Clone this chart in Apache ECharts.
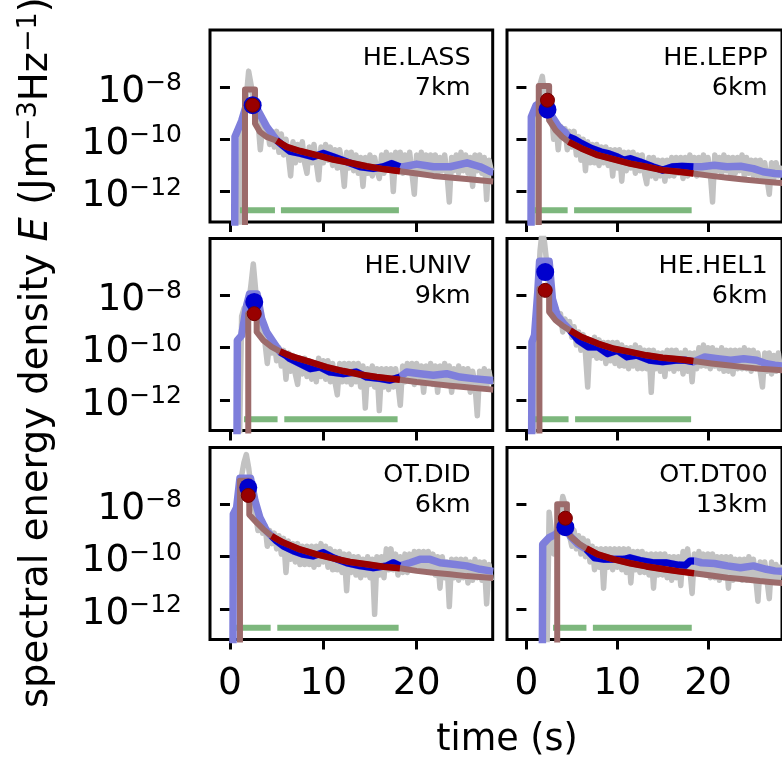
<!DOCTYPE html>
<html><head><meta charset="utf-8">
<script src="https://cdn.jsdelivr.net/npm/echarts@6/dist/echarts.min.js"></script>
<style>html,body{margin:0;padding:0;background:#fff}#c{width:782px;height:761px}</style>
</head><body><div id="c"></div>
<script>
// ---------------- data (log10 of E in J m^-3 Hz^-1, time in s) ----------------
const stations = ['HE.LASS', 'HE.LEPP', 'HE.UNIV', 'HE.HEL1', 'OT.DID', 'OT.DT00'];
const distances = ['7km', '6km', '9km', '6km', '6km', '13km'];
const xTicks = [0, 10, 20];
const yTickExponents = [-12, -10, -8];

const grayTime = [0,0.25,0.5,0.75,1,1.25,1.5,1.75,2,2.25,2.5,2.75,3,3.25,3.5,3.75,4,4.25,4.5,4.75,5,
5.25,5.5,5.75,6,6.25,6.5,6.75,7,7.25,7.5,7.75,8,8.25,8.5,8.75,9,9.25,9.5,9.75,10,
10.25,10.5,10.75,11,11.25,11.5,11.75,12,12.25,12.5,12.75,13,13.25,13.5,13.75,14,14.25,14.5,14.75,15,
15.25,15.5,15.75,16,16.25,16.5,16.75,17,17.25,17.5,17.75,18,18.25,18.5,18.75,19,19.25,19.5,19.75,20,
20.25,20.5,20.75,21,21.25,21.5,21.75,22,22.25,22.5,22.75,23,23.25,23.5,23.75,24,24.25,24.5,24.75,25,
25.25,25.5,25.75,26,26.25,26.5,26.75,27,27.25,27.5,27.75,28];

const lassGray = [-14,-14,-14,-14,-14,-9.6,-9.0,-8.4,-7.4,-7.9,-8.4,-8.9,-9.3,-10.4,-9.5,-9.8,-9.5,-10.2,-9.7,-10.3,-9.7,
-10.5,-9.8,-10.6,-10.0, -10.6,-11.4,-10.1,-10.9, -10.2,-10.8,-10.1,-10.9, -11.3,-10.3,-10.9,-10.2, -10.9,-11.55,-10.3,-10.9,
-10.2,-10.8,-10.3,-11.0, -10.4,-11.1,-10.4,-10.9, -11.8,-10.5,-11.1,-10.5, -11.2,-10.6,-11.3,-10.7, -11.8,-10.7,-11.3,-10.6,
-11.4,-10.7,-11.2,-11.5, -10.6,-11.3,-10.5,-11.1, -10.6,-12.0,-10.5,-11.2, -10.5,-11.3,-10.6,-11.2, -10.5,-11.3,-12.1,-10.6,
-11.2,-10.5,-11.3,-10.6, -11.2,-10.6,-11.4,-10.6, -11.3,-10.7,-11.2,-10.6, -11.3,-12.4,-10.7,-11.2, -10.6,-11.3,-10.5,-11.2,
-10.6,-11.3,-10.7,-11.8, -10.6,-11.2,-10.6,-11.3, -10.7,-12.3,-10.8,-11.2];
const leppGray = [-14,-14,-14,-14,-9.8,-8.9,-7.9,-7.6,-8.3,-8.8,-9.3,-9.0,-10.0,-9.4,-10.4,-9.5,-9.9,-9.6,-10.4,-9.7,-10.3,
-9.7,-10.6,-9.9,-10.8, -10.0,-11.2,-10.1,-10.9, -10.2,-10.9,-10.2,-11.0, -10.3,-10.9,-10.3,-11.0, -10.4,-11.4,-10.4,-11.1,
-10.4,-11.6,-10.5,-11.2, -10.5,-11.1,-10.5,-11.3, -10.6,-11.2,-10.6,-11.3, -11.7,-10.7,-11.4,-10.7, -11.5,-10.8,-11.4,-10.8,
-11.6,-10.8,-11.4,-10.7, -11.4,-10.7,-11.3,-10.7, -11.5,-10.7,-11.4,-10.6, -11.3,-10.7,-11.4,-10.7, -11.2,-10.6,-11.3,-10.7,
-11.3,-12.4,-10.6,-11.2, -10.7,-11.3,-10.6,-11.2, -10.7,-11.4,-10.7,-11.3, -10.7,-11.2,-10.6,-11.4, -10.7,-11.3,-10.8,-11.4,
-10.8,-11.4,-10.8,-11.5, -10.9,-11.5,-12.1,-10.9, -11.5,-10.9,-11.4,-11.0];
const univGray = [-14,-14,-14,-14,-14,-8.8,-8.5,-8.4,-8.3,-7.6,-6.8,-7.8,-8.6,-9.1,-9.5,-9.8,-10.6,-9.7,-10.2,-9.8,-10.5,
-10.0,-10.7,-10.1,-11.2, -10.2,-10.9,-10.3,-11.0, -11.4,-10.4,-11.0,-10.4, -11.1,-10.5,-11.2,-10.6, -11.3,-10.4,-11.1,-10.5,
-11.2,-10.5,-11.3,-10.6, -11.3,-11.8,-10.6,-11.3, -10.6,-11.3,-10.6,-11.4, -10.6,-11.3,-10.6,-11.5, -10.7,-12.3,-10.8,-11.4,
-10.7,-11.5,-10.8,-12.4, -10.8,-11.5,-10.8,-11.6, -10.8,-11.5,-10.8,-11.4, -12.2,-10.7,-11.3,-10.6, -11.2,-10.6,-11.4,-10.6,
-11.2,-10.7,-11.7,-10.7, -11.3,-10.6,-11.4,-10.7, -11.7,-10.7,-11.3,-10.6, -11.3,-10.7,-11.7,-10.8, -11.4,-10.7,-11.4,-10.8,
-11.4,-10.8,-11.7,-10.9, -11.4,-12.6,-10.9,-11.5, -10.8,-11.5,-10.9,-11.4];
const hel1Gray = [-14,-14,-14,-14,-9.6,-8.0,-6.3,-5.5,-6.0,-6.8,-7.9,-8.3,-8.8,-8.5,-8.9,-8.7,-9.4,-8.9,-9.2,-9.0,-9.6,
-9.2,-9.9,-9.4,-10.1, -9.5,-10.2,-11.5,-9.7, -10.3,-9.6,-10.4,-9.7, -10.4,-9.8,-10.6,-9.8, -10.5,-9.8,-10.6,-9.8,
-10.7,-9.9,-10.7,-10.0, -10.8,-10.0,-10.7,-9.9, -10.8,-10.0,-10.8,-10.1, -10.8,-10.1,-11.7,-10.1, -10.8,-10.2,-10.9,-10.2,
-11.1,-10.1,-10.8,-10.1, -10.9,-10.1,-10.8,-10.2, -11.0,-10.1,-10.9,-10.2, -11.3,-10.2,-10.8,-10.0, -10.7,-9.9,-10.7,-10.0,
-10.8,-10.0,-10.7,-10.1, -10.8,-10.0,-10.9,-10.1, -10.9,-10.1,-11.0,-10.1, -10.8,-10.1,-10.8,-10.0, -10.8,-10.1,-10.9,-10.1,
-10.8,-10.2,-10.9,-11.5, -10.2,-10.9,-10.2,-11.0, -10.3,-10.9,-10.2,-10.9];
const didGray = [-14,-14,-9.0,-8.2,-7.4,-6.9,-6.4,-6.1,-6.6,-7.3,-7.9,-8.4,-9.0,-8.6,-9.1,-8.8,-9.6,-9.0,-9.5,-9.1,-9.7,
-9.2,-9.9,-9.3,-10.6, -9.4,-10.1,-9.5,-10.2, -9.5,-10.3,-9.6,-10.3, -9.6,-10.3,-9.6,-10.4, -9.6,-10.3,-9.5,-10.2,
-9.6,-10.4,-9.7,-10.5, -9.8,-10.5,-9.8,-10.6, -9.9,-11.3,-9.9,-10.6, -10.0,-10.7,-10.0,-10.8, -10.1,-10.7,-10.0,-10.8,
-10.1,-12.2,-10.0,-10.7, -10.0,-10.8,-9.7,-10.5, -9.7,-10.5,-9.9,-10.7, -10.0,-10.6,-9.9,-10.6, -9.9,-10.5,-9.8,-10.4,
-9.8,-10.5,-9.8,-10.4, -9.8,-10.6,-9.9,-10.7, -10.0,-11.2,-10.0,-10.8, -10.2,-11.9,-10.1,-10.8, -10.1,-10.9,-10.1,-10.8,
-10.1,-11.0,-10.2,-10.9, -10.1,-10.8,-10.2,-10.9, -10.2,-11.8,-10.3,-10.9];
const dt00Gray = [-14,-14,-14,-14,-14,-14,-14,-14,-14,-14,-8.3,-9.0,-9.9,-9.3,-9.1,-8.4,-7.7,-8.0,-8.6,-9.2,-9.6,
-9.0,-9.7,-9.2,-9.9, -9.3,-10.0,-9.4,-10.2, -9.6,-10.5,-9.7,-10.4, -9.7,-11.2,-9.7,-10.4, -9.7,-10.5,-9.7,-10.4,
-9.7,-10.5,-9.7,-10.6, -9.7,-11.0,-9.8,-10.5, -9.8,-10.6,-9.8,-10.6, -9.9,-10.7,-9.9,-11.2, -9.9,-10.7,-9.9,-10.7,
-9.9,-10.8,-10.0,-10.9, -10.0,-10.8,-10.0,-11.1, -9.8,-10.6,-9.7,-10.5, -11.4,-9.9,-10.6,-9.8, -10.6,-9.9,-10.7,-9.9,
-10.8,-9.9,-10.8,-10.0, -10.9,-10.0,-10.8,-10.0, -11.2,-10.0,-10.9,-10.1, -10.8,-10.1,-10.9,-10.1, -10.9,-10.0,-10.8,-10.1,
-10.8,-11.7,-10.2,-10.9, -10.2,-10.9,-11.6,-10.2, -10.9,-10.3,-10.9,-10.3];

// smoothed envelope: before fit window, inside fit window, after
const lassSmoothPre = [[0.5,-14],[0.54,-9.9],[1.25,-9.3],[1.8,-8.65],[2.4,-8.55],[3.0,-8.9],[3.9,-9.5],[4.6,-9.85]];
const lassSmoothFit = [[5.0,-10.04],[5.7,-10.25],[6.43,-10.46],[7.5,-10.54],[8.93,-10.67],[10.0,-10.54],[11.07,-10.67],[12.5,-10.86],[13.93,-11.05],[15.36,-11.12],[16.43,-11.05],[17.32,-10.93],[18.21,-11.05]];
const lassSmoothPost = [[18.6,-11.05],[20.0,-10.95],[21.8,-11.05],[23.6,-11.05],[25.4,-10.9],[26.8,-11.05],[27.9,-11.24],[28.2,-11.25]];
const leppSmoothPre = [[0.5,-14],[0.54,-9.15],[1.07,-8.7],[1.6,-8.6],[2.32,-8.8],[2.86,-9.15],[3.57,-9.53],[4.3,-9.75]];
const leppSmoothFit = [[4.64,-9.91],[5.3,-10.0],[6.07,-10.16],[7.14,-10.35],[8.21,-10.48],[8.93,-10.54],[10.0,-10.67],[10.71,-10.8],[11.43,-10.74],[12.5,-10.86],[13.93,-11.05],[15.0,-11.18],[16.07,-11.05],[17.14,-11.03],[18.39,-11.05]];
const leppSmoothPost = [[19.3,-11.05],[20.7,-10.99],[22.1,-11.05],[23.6,-11.03],[25.0,-11.12],[26.07,-11.24],[27.36,-11.31],[28.2,-11.33]];
const univSmoothPre = [[0.75,-14],[0.79,-9.72],[1.25,-9.53],[1.79,-8.38],[2.1,-7.95],[2.9,-7.95],[3.39,-8.89],[3.93,-9.4],[4.64,-9.78]];
const univSmoothFit = [[5.36,-10.16],[6.0,-10.3],[6.43,-10.42],[7.5,-10.61],[8.57,-10.8],[9.64,-10.74],[10.71,-10.93],[12.14,-10.99],[13.57,-10.93],[14.64,-11.12],[16.07,-11.18],[17.14,-11.24],[18.21,-11.12]];
const univSmoothPost = [[18.93,-10.93],[20.36,-10.99],[21.79,-11.05],[23.21,-10.99],[24.64,-11.12],[26.07,-11.18],[27.86,-11.24],[28.2,-11.25]];
const hel1SmoothPre = [[0.57,-14],[0.61,-9.78],[0.89,-9.53],[1.25,-7.87],[1.45,-6.7],[2.5,-6.7],[2.86,-8.13],[3.39,-8.76],[4.1,-9.08]];
const hel1SmoothFit = [[4.82,-9.34],[5.71,-9.72],[6.79,-9.97],[7.86,-9.97],[8.93,-10.23],[10.0,-10.1],[11.07,-10.35],[12.14,-10.29],[13.57,-10.48],[15.0,-10.54],[16.43,-10.48],[17.5,-10.48],[18.39,-10.54]];
const hel1SmoothPost = [[19.64,-10.35],[21.07,-10.42],[22.5,-10.48],[23.93,-10.42],[25.36,-10.48],[26.43,-10.61],[27.36,-10.67],[28.2,-10.7]];
const didSmoothPre = [[0.32,-14],[0.36,-8.38],[0.71,-8.13],[1.07,-7.0],[2.2,-7.0],[2.68,-7.87],[3.21,-8.51],[3.93,-9.02]];
const didSmoothFit = [[4.46,-9.21],[5.0,-9.4],[5.71,-9.59],[6.79,-9.78],[7.86,-9.91],[8.93,-9.97],[10.0,-9.84],[11.07,-10.04],[12.5,-10.23],[13.93,-10.35],[15.36,-10.42],[16.79,-10.35],[17.5,-10.23],[18.21,-10.35]];
const didSmoothPost = [[19.29,-10.23],[20.36,-10.1],[21.43,-10.1],[22.5,-10.23],[23.93,-10.29],[25.36,-10.35],[26.79,-10.48],[27.86,-10.54],[28.2,-10.56]];
const dt00SmoothPre = [[1.75,-14],[1.79,-9.53],[2.5,-9.27],[3.21,-9.15],[3.93,-8.83],[4.3,-8.87],[4.82,-9.21],[5.71,-9.53]];
const dt00SmoothFit = [[6.61,-9.72],[7.5,-10.04],[8.57,-10.1],[9.64,-10.1],[10.71,-10.1],[11.43,-10.04],[12.5,-10.14],[13.93,-10.23],[15.36,-10.23],[16.79,-10.32],[17.5,-10.33],[18.04,-10.16],[18.46,-10.16]];
const dt00SmoothPost = [[19.29,-10.23],[20.71,-10.26],[22.14,-10.35],[23.57,-10.42],[25.0,-10.35],[26.43,-10.48],[27.36,-10.54],[28.2,-10.56]];

// model curve: before fit window, inside fit window, after
const lassModelPre = [[1.61,-14],[1.61,-8.1],[2.68,-8.1],[2.68,-9.4],[3.21,-9.72],[3.93,-9.91]];
const lassModelFit = [[5.0,-10.06],[6.07,-10.29],[7.5,-10.45],[9.29,-10.61],[11.07,-10.78],[12.86,-10.9],[14.64,-11.03],[16.43,-11.14],[18.21,-11.22]];
const lassModelPost = [[20.0,-11.31],[21.79,-11.4],[23.57,-11.46],[25.36,-11.52],[27.86,-11.6],[28.2,-11.61]];
const leppModelPre = [[1.36,-14],[1.36,-7.97],[2.5,-7.97],[2.5,-9.27],[3.21,-9.65],[3.93,-9.91]];
const leppModelFit = [[4.64,-10.1],[6.07,-10.35],[7.86,-10.61],[9.64,-10.77],[11.43,-10.93],[13.21,-11.05],[15.0,-11.18],[16.79,-11.24],[18.39,-11.31]];
const leppModelPost = [[20.36,-11.4],[22.14,-11.47],[23.93,-11.54],[25.7,-11.6],[27.36,-11.65],[28.2,-11.67]];
const univModelPre = [[1.96,-14],[1.96,-8.7],[2.86,-8.7],[2.86,-9.4],[3.57,-9.72],[4.46,-9.97]];
const univModelFit = [[5.36,-10.14],[6.79,-10.35],[8.57,-10.54],[10.36,-10.74],[12.14,-10.89],[13.93,-11.02],[15.71,-11.12],[18.21,-11.22]];
const univModelPost = [[20.0,-11.31],[21.79,-11.38],[23.57,-11.45],[25.36,-11.51],[27.86,-11.59],[28.2,-11.6]];
const hel1ModelPre = [[1.43,-14],[1.43,-7.75],[2.5,-7.75],[2.5,-8.63],[3.21,-8.95],[3.93,-9.15]];
const hel1ModelFit = [[4.82,-9.34],[6.07,-9.59],[7.86,-9.84],[9.64,-10.04],[11.43,-10.16],[13.21,-10.29],[15.0,-10.38],[16.79,-10.44],[18.39,-10.51]];
const hel1ModelPost = [[20.36,-10.6],[22.14,-10.67],[23.93,-10.74],[25.71,-10.8],[27.36,-10.84],[28.2,-10.86]];
const didModelPre = [[1.07,-14],[1.07,-7.1],[2.07,-7.1],[2.07,-8.4],[2.86,-8.7],[3.57,-8.95]];
const didModelFit = [[4.46,-9.21],[5.71,-9.46],[7.5,-9.72],[9.29,-9.91],[11.07,-10.06],[12.86,-10.2],[14.64,-10.29],[16.43,-10.38],[18.21,-10.44]];
const didModelPost = [[20.0,-10.54],[21.79,-10.61],[23.57,-10.67],[25.36,-10.74],[27.86,-10.8],[28.2,-10.81]];
const dt00ModelPre = [[3.39,-14],[3.39,-8.0],[4.46,-8.0],[4.46,-9.03],[5.0,-9.27],[5.89,-9.53]];
const dt00ModelFit = [[6.61,-9.68],[7.86,-9.91],[9.64,-10.1],[11.43,-10.25],[13.21,-10.37],[15.0,-10.47],[16.79,-10.56],[18.46,-10.63]];
const dt00ModelPost = [[20.36,-10.72],[22.14,-10.8],[23.93,-10.86],[25.71,-10.93],[27.36,-10.98],[28.2,-11.0]];

// peak markers [time, log10 E]
const observedPeaks = [[2.43,-8.7],[2.32,-8.87],[2.6,-8.25],[2.07,-7.11],[1.96,-7.36],[4.29,-8.87]];
const modelPeaks = [[2.43,-8.7],[2.32,-8.51],[2.6,-8.7],[2.07,-7.81],[1.96,-7.66],[4.29,-8.53]];

// time windows (green bars) and their level
const windowLevels = [-12.71, -12.71, -12.73, -12.73, -12.71, -12.71];
const directWindows = [[1.07,4.82],[0.89,4.54],[1.5,5.1],[0.89,4.64],[0.64,4.36],[2.93,6.61]];
const codaWindows = [[5.46,18.1],[5.25,18.2],[5.82,17.96],[5.36,18.14],[5.07,18.07],[7.32,18.21]];

// ---------------- layout / styles ----------------
const grayArr = [lassGray, leppGray, univGray, hel1Gray, didGray, dt00Gray];
const smoothPre = [lassSmoothPre, leppSmoothPre, univSmoothPre, hel1SmoothPre, didSmoothPre, dt00SmoothPre];
const smoothFit = [lassSmoothFit, leppSmoothFit, univSmoothFit, hel1SmoothFit, didSmoothFit, dt00SmoothFit];
const smoothPost = [lassSmoothPost, leppSmoothPost, univSmoothPost, hel1SmoothPost, didSmoothPost, dt00SmoothPost];
const modelPre = [lassModelPre, leppModelPre, univModelPre, hel1ModelPre, didModelPre, dt00ModelPre];
const modelFit = [lassModelFit, leppModelFit, univModelFit, hel1ModelFit, didModelFit, dt00ModelFit];
const modelPost = [lassModelPost, leppModelPost, univModelPost, hel1ModelPost, didModelPost, dt00ModelPost];

const FONT = '"DejaVu Sans", "Liberation Sans", sans-serif';
const colLeft = [210, 507];
const rowTop = [30, 238.5, 447.5];
const W = 282.7, H = 192;
const X_MIN = -2.14, X_MAX = 28.15, Y_MIN = -13.16, Y_MAX = -5.83;

const grids = [], xAxes = [], yAxes = [], series = [], graphics = [];

function lineSeries(i, data, color, width, z) {
  return { type: 'line', xAxisIndex: i, yAxisIndex: i, data: data, symbol: 'none', z: z,
    silent: true, clip: true, animation: false,
    lineStyle: { color: color, width: width, cap: 'butt', join: 'round' } };
}

for (let i = 0; i < 6; i++) {
  const col = i % 2, row = Math.floor(i / 2);
  grids.push({ left: colLeft[col], top: rowTop[row], width: W, height: H, show: true,
    borderColor: '#000', borderWidth: 3, backgroundColor: '#fff' });
  xAxes.push({ gridIndex: i, type: 'value', min: X_MIN, max: X_MAX,
    axisLine: { show: false }, splitLine: { show: false },
    axisTick: { show: true, customValues: xTicks, length: 10, lineStyle: { color: '#000', width: 3 } },
    axisLabel: { show: row === 2, customValues: xTicks, color: '#000', fontSize: 37.5, fontFamily: FONT, margin: 26 } });
  yAxes.push({ gridIndex: i, type: 'value', min: Y_MIN, max: Y_MAX,
    axisLine: { show: false }, splitLine: { show: false },
    axisTick: { show: true, customValues: yTickExponents, length: 10, lineStyle: { color: '#000', width: 3 } },
    axisLabel: { show: col === 0, customValues: yTickExponents, margin: 28, padding: [8, 0, 0, 0],
      formatter: function (v) { return '{b|10}{s|\u2212' + Math.abs(Math.round(v)) + '}'; },
      rich: {
        b: { fontSize: 37.5, lineHeight: 40, verticalAlign: 'bottom', fontFamily: FONT, color: '#000' },
        s: { fontSize: 25, lineHeight: 25, verticalAlign: 'top', fontFamily: FONT, color: '#000' }
      } } });

  series.push(lineSeries(i, grayTime.map((t, k) => [t, grayArr[i][k]]), '#c2c2c2', 5.5, 2));
  series.push(lineSeries(i, [[directWindows[i][0], windowLevels[i]], [directWindows[i][1], windowLevels[i]]], '#7db77d', 6, 3));
  series.push(lineSeries(i, [[codaWindows[i][0], windowLevels[i]], [codaWindows[i][1], windowLevels[i]]], '#7db77d', 6, 3));
  series.push(lineSeries(i, smoothPre[i].concat(smoothFit[i], smoothPost[i]), '#7e7edb', 7.5, 4));
  series.push(lineSeries(i, smoothFit[i], '#0000cd', 7, 5));
  series.push(lineSeries(i, modelPre[i].concat(modelFit[i], modelPost[i]), '#9c6b6b', 6, 6));
  series.push(lineSeries(i, modelFit[i], '#990000', 6.5, 7));
  series.push({ type: 'scatter', xAxisIndex: i, yAxisIndex: i, data: [observedPeaks[i]], symbol: 'circle', z: 8,
    symbolSize: 18, silent: true, animation: false, itemStyle: { color: '#0000cd', opacity: 1 } });
  series.push({ type: 'scatter', xAxisIndex: i, yAxisIndex: i, data: [modelPeaks[i]], symbol: 'circle', z: 9,
    symbolSize: 14, silent: true, animation: false,
    itemStyle: { color: '#990000', borderColor: '#700000', borderWidth: 1, opacity: 1 } });

  graphics.push({ type: 'text', x: colLeft[col] + W - 22, y: rowTop[row] + 13, z: 100, silent: true,
    style: { text: stations[i] + '\n' + distances[i], fontSize: 25.5, fontFamily: FONT, lineHeight: 30,
      fill: '#000', align: 'right', textAlign: 'right', verticalAlign: 'top', textVerticalAlign: 'top' } });
}

graphics.push({ type: 'text', x: 507, y: 741, silent: true,
  style: { text: 'time (s)', fontSize: 36.5, fontFamily: FONT, fill: '#000',
    align: 'center', textAlign: 'center', verticalAlign: 'middle', textVerticalAlign: 'middle' } });

graphics.push({ type: 'text', x: 36, y: 708, rotation: Math.PI / 2, silent: true,
  style: {
    text: '{n|spectral energy density }{i|E}{n| (Jm}{s|\u22123}{n|Hz}{s|\u22121}{n|)}',
    align: 'left', textAlign: 'left', verticalAlign: 'middle', textVerticalAlign: 'middle', fill: '#000',
    rich: {
      n: { fontSize: 38.5, lineHeight: 41, verticalAlign: 'bottom', fontFamily: FONT, fill: '#000' },
      i: { fontSize: 38.5, lineHeight: 41, verticalAlign: 'bottom', fontStyle: 'italic', fontFamily: FONT, fill: '#000' },
      s: { fontSize: 27, lineHeight: 27, verticalAlign: 'top', fontFamily: FONT, fill: '#000' }
    } } });

const chart = echarts.init(document.getElementById('c'), null, { renderer: 'canvas', width: 782, height: 761 });
chart.setOption({ animation: false, backgroundColor: '#fff', grid: grids, xAxis: xAxes, yAxis: yAxes,
  series: series, graphic: graphics });
</script></body></html>
